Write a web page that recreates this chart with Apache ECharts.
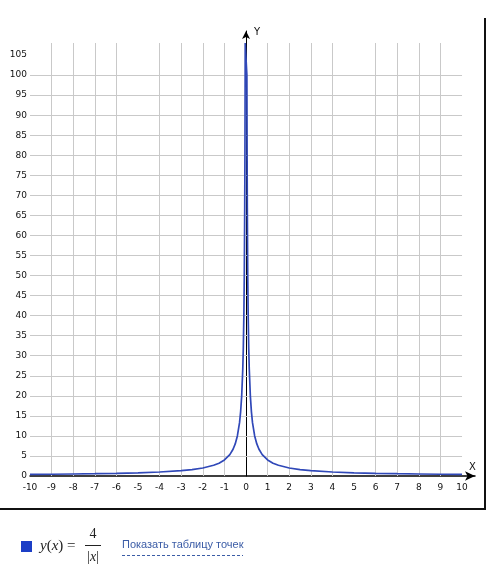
<!DOCTYPE html>
<html>
<head>
<meta charset="utf-8">
<script src="https://cdn.jsdelivr.net/npm/echarts@6/dist/echarts.min.js"></script>
<style>
  html, body { margin: 0; padding: 0; background: #fff; }
  #chart { width: 495px; height: 569px; }
</style>
</head>
<body>
<div id="chart"></div>
<script>
// y(x) = 4/|x|, точки
const curveX = [-10, -9, -8, -7, -6, -5, -4, -3, -2.5, -2, -1.5, -1.25, -1, -0.75, -0.6, -0.5, -0.4, -0.3, -0.25, -0.2, -0.15, -0.125, -0.1, -0.08, -0.06, -0.05, -0.04, -0.037,
  0.037, 0.04, 0.05, 0.06, 0.08, 0.1, 0.125, 0.15, 0.2, 0.25, 0.3, 0.4, 0.5, 0.6, 0.75, 1, 1.25, 1.5, 2, 2.5, 3, 4, 5, 6, 7, 8, 9, 10]
const curveY = [0.4, 0.44, 0.5, 0.57, 0.67, 0.8, 1, 1.33, 1.6, 2, 2.67, 3.2, 4, 5.33, 6.67, 8, 10, 13.3, 16, 20, 26.7, 32, 40, 50, 66.7, 80, 100, 108,
  108, 100, 80, 66.7, 50, 40, 32, 26.7, 20, 16, 13.3, 10, 8, 6.67, 5.33, 4, 3.2, 2.67, 2, 1.6, 1.33, 1, 0.8, 0.67, 0.57, 0.5, 0.44, 0.4]

// линии сетки
const gridX = [-9, -8, -7, -6, -4, -3, -2, -1, 1, 2, 3, 4, 6, 7, 8, 9]
const gridY = [5, 10, 15, 20, 25, 30, 35, 40, 45, 50, 55, 60, 65, 70, 75, 80, 85, 90, 95, 100]
const xMin = -10
const xMax = 10
const yTop = 108

const chart = echarts.init(document.getElementById('chart'))

const labelFont = { color: '#111', fontSize: 9, fontFamily: 'DejaVu Sans' }

const gridLines = []
gridY.forEach(v => gridLines.push([{ coord: [xMin, v] }, { coord: [xMax, v] }]))
gridX.forEach(v => gridLines.push([{ coord: [v, 0] }, { coord: [v, yTop] }]))

const option = {
  animation: false,
  grid: { left: 30, right: 20, top: 31, bottom: 93, containLabel: false },
  xAxis: {
    type: 'value',
    min: -10,
    max: 10.6,
    interval: 1,
    name: 'X',
    nameLocation: 'end',
    nameGap: -6,
    nameTextStyle: { color: '#111', fontSize: 10, fontFamily: 'DejaVu Sans', verticalAlign: 'bottom', padding: [0, 0, 4, 0] },
    axisLine: { onZero: false, symbol: ['none', 'arrow'], symbolSize: [7, 10], lineStyle: { color: '#000', width: 1.5 } },
    axisTick: { show: false },
    splitLine: { show: false },
    axisLabel: {
      ...labelFont,
      margin: 7,
      showMaxLabel: false,
      formatter: v => (Number.isInteger(v) ? String(v) : '')
    }
  },
  yAxis: [
    {
      type: 'value',
      min: 0,
      max: 111,
      interval: 5,
      axisLine: { show: false },
      axisTick: { show: false },
      splitLine: { show: false },
      axisLabel: {
        ...labelFont,
        margin: 3,
        formatter: v => (v % 5 === 0 && v <= 105 ? String(v) : '')
      }
    },
    {
      type: 'value',
      min: 0,
      max: 111,
      interval: 5,
      position: 'left',
      name: 'Y',
      nameLocation: 'end',
      nameGap: -1,
      nameTextStyle: { color: '#111', fontSize: 10, fontFamily: 'DejaVu Sans', align: 'left', verticalAlign: 'middle', padding: [0, 0, 0, 8] },
      axisLine: { show: true, onZero: true, onZeroAxisIndex: 0, symbol: ['none', 'arrow'], symbolSize: [6, 8], lineStyle: { color: '#000', width: 1 } },
      axisTick: { show: false },
      axisLabel: { show: false },
      splitLine: { show: false }
    }
  ],
  series: [
    {
      type: 'line',
      data: [],
      silent: true,
      z: 1,
      markLine: {
        silent: true,
        symbol: 'none',
        label: { show: false },
        lineStyle: { color: '#c9c9c9', width: 1, type: 'solid' },
        data: gridLines
      }
    },
    {
      type: 'line',
      z: 5,
      showSymbol: false,
      smooth: false,
      lineStyle: { color: '#3048b8', width: 1.7 },
      data: curveX.map((x, i) => [x, curveY[i]])
    }
  ],
  graphic: [
    // рамка
    { type: 'line', shape: { x1: 485, y1: 18, x2: 485, y2: 509 }, style: { stroke: '#111', lineWidth: 2 } },
    { type: 'line', shape: { x1: 0, y1: 509, x2: 486, y2: 509 }, style: { stroke: '#111', lineWidth: 2 } },
    // легенда
    { type: 'rect', shape: { x: 21, y: 541, width: 11, height: 11 }, style: { fill: '#1c3ec6' } },
    {
      type: 'text',
      x: 40,
      y: 546,
      style: {
        text: '{i|y}{n|(}{i|x}{n|) =}',
        verticalAlign: 'middle',
        rich: {
          i: { fontFamily: 'Liberation Serif', fontStyle: 'italic', fontSize: 15, fill: '#222' },
          n: { fontFamily: 'Liberation Serif', fontSize: 15, fill: '#222' }
        }
      }
    },
    { type: 'text', x: 93, y: 534, style: { text: '4', fontFamily: 'Liberation Serif', fontSize: 14, fill: '#222', align: 'center', verticalAlign: 'middle' } },
    { type: 'line', shape: { x1: 85, y1: 545.5, x2: 101, y2: 545.5 }, style: { stroke: '#222', lineWidth: 1 } },
    {
      type: 'text',
      x: 93,
      y: 557,
      style: {
        text: '{n||}{i|x}{n||}',
        align: 'center',
        verticalAlign: 'middle',
        rich: {
          i: { fontFamily: 'Liberation Serif', fontStyle: 'italic', fontSize: 14, fill: '#222' },
          n: { fontFamily: 'Liberation Serif', fontSize: 14, fill: '#222' }
        }
      }
    },
    { type: 'text', x: 122, y: 545, style: { text: 'Показать таблицу точек', fontFamily: 'Liberation Sans', fontSize: 11, fill: '#3b5ca6', verticalAlign: 'middle' } },
    { type: 'line', shape: { x1: 122, y1: 555.5, x2: 243, y2: 555.5 }, style: { stroke: '#3b5ca6', lineWidth: 1, lineDash: [3, 2] } }
  ]
}

chart.setOption(option)
</script>
</body>
</html>
